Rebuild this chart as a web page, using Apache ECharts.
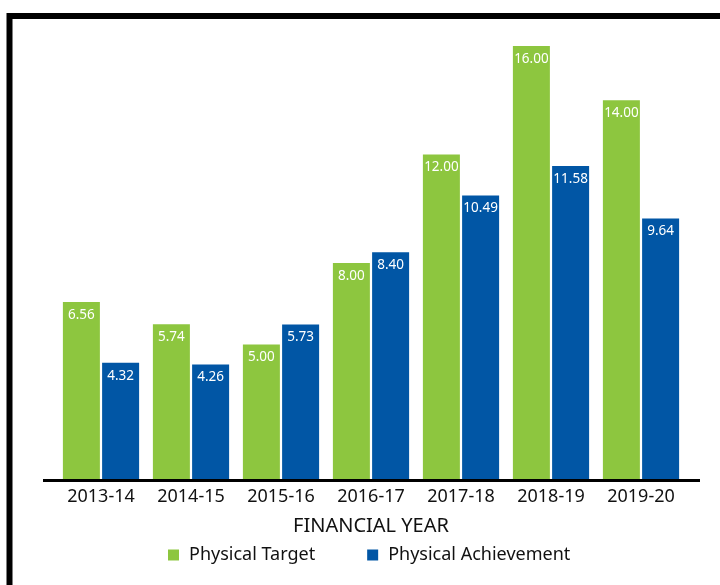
<!DOCTYPE html>
<html><head><meta charset="utf-8">
<script src="https://cdn.jsdelivr.net/npm/echarts@6/dist/echarts.min.js"></script>
<style>html,body{margin:0;padding:0;background:#fff}#c{width:720px;height:585px}</style>
</head><body><div id="c"></div>
<script>
var categories = ['2013-14','2014-15','2015-16','2016-17','2017-18','2018-19','2019-20'];
var physicalTarget = [6.56, 5.74, 5.00, 8.00, 12.00, 16.00, 14.00];
var physicalAchievement = [4.32, 4.26, 5.73, 8.40, 10.49, 11.58, 9.64];
var seriesNames = ['Physical Target', 'Physical Achievement'];
var axisTitle = 'FINANCIAL YEAR';

var chart = echarts.init(document.getElementById('c'));
var font = '"Noto Sans", sans-serif';
var lbl = {show:true, position:'insideTop', distance:6, color:'#fff', fontSize:13.5, fontFamily:font,
  formatter:function(p){return p.value.toFixed(2);}};
chart.setOption({
  animation:false,
  backgroundColor:'#fff',
  grid:{left:56, right:34, top:46, bottom:105},
  xAxis:{type:'category', data:categories,
    axisLine:{show:false}, axisTick:{show:false},
    axisLabel:{color:'#111', fontSize:18, fontFamily:font, margin:8},
    name:axisTitle, nameLocation:'middle', nameGap:36,
    nameTextStyle:{color:'#111', fontSize:20, fontFamily:font}},
  yAxis:{type:'value', min:0, max:16, show:false},
  legend:{data:seriesNames, top:541, left:163, itemWidth:11, itemHeight:11, itemGap:52, icon:'rect',
    textStyle:{color:'#111', fontSize:18, fontFamily:font, padding:[0,0,0,5]}},
  series:[
    {name:seriesNames[0], type:'bar', data:physicalTarget, barWidth:37, barGap:'6%', itemStyle:{color:'#8DC63F'}, label:lbl},
    {name:seriesNames[1], type:'bar', data:physicalAchievement, barWidth:37, barGap:'6%', itemStyle:{color:'#0156A5'}, label:lbl}
  ],
  graphic:[
    {type:'rect', shape:{x:9.5, y:16, width:800, height:700}, style:{fill:'none', stroke:'#000', lineWidth:6}, z:100},
    {type:'line', shape:{x1:43, y1:480.5, x2:700, y2:480.5}, style:{stroke:'#000', lineWidth:3}, z:100}
  ]
});
</script></body></html>
